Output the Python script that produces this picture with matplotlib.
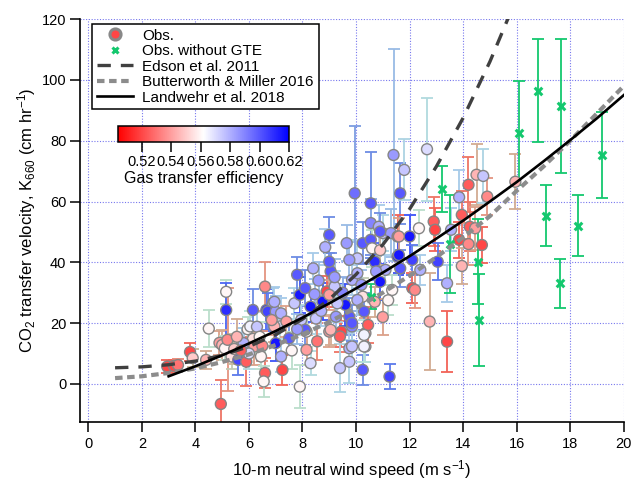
import matplotlib
matplotlib.use('Agg')
import matplotlib.pyplot as plt
from matplotlib.colors import Normalize, LinearSegmentedColormap
from matplotlib.lines import Line2D
import numpy as np

plt.rcParams['font.family'] = ['Liberation Sans', 'DejaVu Sans']
plt.rcParams['mathtext.default'] = 'regular'

# observations with gas transfer efficiency (GTE)
obs_u = [2.95, 3.2, 3.35, 3.8, 3.9, 4.4, 4.5, 4.95, 5.15, 5.15, 4.9, 5.0, 5.1, 5.2, 5.35,
         5.6, 5.9, 5.75, 5.95, 6.05, 6.3, 6.15, 6.2, 5.8, 6.6, 6.55, 6.45, 6.65, 6.6, 6.15,
         6.9, 6.7, 7.0, 7.2, 7.15, 6.95, 7.0, 7.2, 7.25, 7.5, 7.7, 7.8, 8.4, 7.9, 8.1,
         8.3, 7.95, 8.15, 8.15, 8.3, 8.75, 8.9, 9.05, 9.0, 9.2, 9.25, 9.45, 9.4, 9.0, 9.6,
         9.75, 9.85, 9.75, 9.75, 9.4, 10.25, 10.35, 10.35, 10.45, 10.25, 9.85, 10.05, 10.25, 9.75, 9.95,
         10.55, 10.55, 10.85, 11.0, 11.3, 11.65, 11.55, 12.0, 12.35, 11.55, 11.65, 12.1, 12.4, 12.1, 12.2,
         11.35, 10.9, 11.1, 12.9, 12.95, 13.05, 12.75, 13.4, 10.3, 7.9, 11.4, 11.8, 12.65, 14.5, 14.75,
         14.2, 13.85, 14.9, 13.95, 15.95, 13.55, 13.85, 14.25, 14.45, 14.7, 14.2, 13.95, 13.4, 11.6, 11.25,
         9.0, 8.85, 10.7, 10.75, 10.05, 9.2, 9.65, 10.55, 10.6, 10.9, 10.2, 10.05, 9.85, 10.3, 9.85,
         10.3, 9.0, 9.05, 8.1, 6.85, 6.95, 11.6, 5.45, 5.55, 6.4, 6.5, 6.0, 5.7, 7.4, 7.6,
         7.8, 8.5, 8.55, 8.7, 8.45, 9.3, 9.5, 8.6, 10.7, 11.0, 11.2, 10.9]
obs_k = [5.7, 5.9, 6.2, 10.5, 8.5, 7.9, 18.2, -6.6, 30.3, 24.3, 13.5, 12.8, 11.7, 14.5, 9.0,
         7.9, 7.3, 13.5, 18.0, 18.9, 18.8, 14.8, 12.3, 13.4, 3.6, 0.8, 9.0, 24.3, 32.0, 24.3,
         26.5, 23.8, 23.8, 23.2, 18.9, 18.9, 13.4, 9.0, 4.6, 15.0, 26.5, 35.9, 38.0, 29.3, 31.5,
         25.4, 21.0, 17.2, 11.2, 6.8, 27.1, 30.4, 37.0, 40.2, 32.0, 22.1, 17.2, 15.6, 17.2, 26.0,
         22.1, 18.9, 11.7, 7.3, 5.2, 4.6, 12.3, 16.7, 19.4, 28.7, 34.2, 41.3, 46.3, 40.8, 62.7,
         59.4, 52.9, 51.7, 49.6, 49.6, 62.7, 48.5, 48.5, 51.2, 41.9, 38.0, 40.8, 37.5, 31.5, 30.9,
         30.9, 33.6, 37.5, 53.4, 50.7, 40.2, 20.5, 13.9, 23.8, -0.9, 75.3, 70.4, 77.2, 68.8, 68.4,
         65.5, 61.4, 61.6, 55.6, 66.5, 50.7, 47.4, 51.7, 51.2, 45.7, 46.0, 38.8, 33.1, 42.4, 2.4,
         49.0, 45.0, 40.2, 37.0, 36.4, 35.1, 46.3, 47.4, 44.6, 50.1, 32.6, 27.6, 20.0, 16.1, 12.3,
         12.3, 29.3, 17.8, 17.8, 21.0, 27.0, 48.5, 11.5, 15.5, 15.5, 12.5, 10.0, 11.0, 20.5, 11.0,
         18.0, 21.5, 14.0, 24.0, 29.5, 26.5, 30.0, 34.0, 27.0, 22.0, 27.5, 44.0]
obs_err = [2, 2, 2, 3, 3, 3, 6, 8, 4, 9, 4, 5, 4, 17, 4,
           5, 8, 5, 4, 5, 5, 5, 6, 5, 5, 5, 4, 7, 8, 7,
           5, 6, 5, 5, 4, 5, 6, 5, 5, 5, 5, 6, 5, 6, 6,
           5, 5, 5, 5, 4, 6, 5, 6, 6, 5, 5, 5, 5, 5, 7,
           6, 5, 5, 7, 8, 5, 5, 5, 6, 6, 5, 6, 7, 6, 22,
           17, 8, 7, 6, 8, 10, 7, 7, 6, 6, 6, 5, 5, 5, 6,
           5, 6, 5, 8, 7, 6, 16, 10, 6, 7, 35, 10, 17, 10, 9,
           9, 9, 6, 8, 9, 7, 6, 8, 7, 6, 7, 6, 6, 6, 4,
           6, 6, 6, 5, 5, 6, 6, 6, 6, 6, 5, 5, 6, 5, 5,
           5, 5, 5, 5, 5, 5, 6, 5, 6, 5, 5, 5, 4, 5, 6,
           5, 5, 6, 5, 5, 6, 5, 6, 5, 6, 5, 5]
obs_gte = [0.52, 0.52, 0.53, 0.52, 0.55, 0.545, 0.56, 0.525, 0.56, 0.61, 0.54, 0.545, 0.56, 0.535, 0.555,
           0.605, 0.525, 0.58, 0.56, 0.565, 0.575, 0.555, 0.54, 0.58, 0.525, 0.56, 0.56, 0.61, 0.535, 0.60,
           0.58, 0.605, 0.585, 0.58, 0.57, 0.545, 0.615, 0.58, 0.52, 0.60, 0.575, 0.60, 0.58, 0.615, 0.60,
           0.615, 0.575, 0.56, 0.54, 0.57, 0.615, 0.52, 0.60, 0.60, 0.575, 0.585, 0.52, 0.525, 0.54, 0.615,
           0.60, 0.59, 0.58, 0.575, 0.575, 0.60, 0.575, 0.54, 0.525, 0.555, 0.58, 0.575, 0.60, 0.585, 0.595,
           0.60, 0.59, 0.58, 0.575, 0.585, 0.60, 0.52, 0.615, 0.56, 0.615, 0.60, 0.605, 0.58, 0.52, 0.535,
           0.56, 0.615, 0.58, 0.525, 0.52, 0.605, 0.545, 0.52, 0.60, 0.56, 0.585, 0.575, 0.57, 0.545, 0.575,
           0.525, 0.58, 0.535, 0.525, 0.545, 0.58, 0.52, 0.525, 0.54, 0.52, 0.535, 0.545, 0.58, 0.615, 0.605,
           0.60, 0.58, 0.61, 0.585, 0.58, 0.585, 0.585, 0.60, 0.56, 0.60, 0.585, 0.58, 0.60, 0.565, 0.575,
           0.565, 0.54, 0.545, 0.60, 0.54, 0.58, 0.54, 0.55, 0.545, 0.56, 0.535, 0.57, 0.525, 0.54, 0.56,
           0.585, 0.575, 0.53, 0.58, 0.585, 0.575, 0.59, 0.585, 0.545, 0.54, 0.56, 0.55]

# observations without GTE
nogte_u = [10.55, 13.5, 13.2, 14.55, 14.6, 16.07, 16.8, 17.1, 17.65, 18.3, 17.6, 19.2]
nogte_k = [28.7, 46.0, 64.1, 40.2, 21.0, 82.5, 96.5, 55.3, 91.4, 52.0, 33.1, 75.3]
nogte_err = [4, 16, 7.5, 14, 15, 17, 17, 10, 22, 10, 8, 14]

# parameterisations
edson_u = list(range(1, 17))
edson_k = [5.3, 5.6, 6.3, 7.5, 9.4, 12.3, 16.2, 21.3, 27.8, 36.0, 45.8, 57.5, 71.5, 87.5, 106.0, 127.0]
bm_u = list(range(1, 21))
bm_k = [1.9, 2.5, 3.6, 5.1, 7.2, 9.7, 12.8, 16.3, 20.4, 25.0, 30.0, 35.6, 41.7, 48.2, 55.2,
        63.5, 71.5, 80.0, 89.0, 98.0]
lw_u = list(range(3, 21))
lw_k = [2.5, 5.8, 9.4, 13.3, 17.4, 21.8, 26.5, 31.4, 36.6, 42.0, 47.8, 53.7, 60.0, 66.4,
        73.2, 80.2, 87.4, 95.0]

gte_min, gte_max = 0.504, 0.62
cbar_ticks = [0.52, 0.54, 0.56, 0.58, 0.60, 0.62]

fig = plt.figure(figsize=(6.32, 4.9), dpi=100)
ax = fig.add_axes([0.127, 0.139, 0.860, 0.822])

norm = Normalize(gte_min, gte_max)
cmap = plt.get_cmap('bwr_r')
ebar_cmap = LinearSegmentedColormap.from_list(
    'ebar', [(0.0, '#ff2a2a'), (0.25, '#e8907c'), (0.4, '#c8b89c'), (0.5, '#b8e6d6'),
             (0.65, '#a8cce8'), (0.8, '#7898e0'), (1.0, '#2a40ff')])

for u, k, e, g in zip(obs_u, obs_k, obs_err, obs_gte):
    ax.errorbar(u, k, yerr=e, fmt='none', ecolor=ebar_cmap(norm(g)), elinewidth=1.3,
                capsize=4, capthick=1.3, zorder=2)
ax.errorbar(nogte_u, nogte_k, yerr=nogte_err, fmt='none', ecolor='#14c86e', elinewidth=1.3,
            capsize=4, capthick=1.3, zorder=2)

ax.scatter(obs_u, obs_k, c=obs_gte, cmap=cmap, norm=norm, s=62, edgecolors='#858585',
           linewidths=1.0, zorder=3)
ax.scatter(nogte_u, nogte_k, marker='x', color='#14c86e', s=30, linewidths=2.2, zorder=4)

ax.plot(edson_u, edson_k, color='#404040', lw=2.4, dashes=(4, 3), zorder=5)
ax.plot(bm_u, bm_k, color='#8c8c8c', lw=3.0, dashes=(1.8, 1.1), zorder=5)
ax.plot(lw_u, lw_k, color='black', lw=1.9, zorder=6)

ax.set_xlim(-0.3, 20)
ax.set_ylim(-12.5, 120)
ax.set_xticks(np.arange(0, 21, 2))
ax.set_yticks(np.arange(0, 121, 20))
ax.grid(True, color='#7777ee', linestyle=(0, (1, 1.5)), linewidth=0.8)
ax.set_axisbelow(True)
for side in ['top', 'right']:
    ax.spines[side].set_visible(False)
for side in ['left', 'bottom']:
    ax.spines[side].set_linewidth(1.2)
ax.tick_params(axis='both', direction='out', length=7, width=1.1, labelsize=10.5)
ax.tick_params(axis='x', pad=4)
ax.tick_params(axis='y', pad=3)
ax.set_xlabel('10-m neutral wind speed (m s$^{-1}$)', fontsize=12, labelpad=5)
ax.set_ylabel('CO$_2$ transfer velocity, K$_{660}$ (cm hr$^{-1}$)', fontsize=12, labelpad=3)

handles = [
    Line2D([], [], ls='none', marker='o', ms=8, mfc='#ff4646', mec='#888888', mew=2.2),
    Line2D([], [], ls='none', marker='x', ms=5, color='#14c86e', mew=2.2),
    Line2D([], [], color='#404040', lw=2.4, dashes=(4, 3)),
    Line2D([], [], color='#8c8c8c', lw=3.0, dashes=(1.8, 1.1)),
    Line2D([], [], color='black', lw=1.9),
]
labels = ['Obs.', 'Obs. without GTE', 'Edson et al. 2011', 'Butterworth & Miller 2016',
          'Landwehr et al. 2018']
leg = ax.legend(handles, labels, loc='upper left', bbox_to_anchor=(0.1456, 0.951),
                bbox_transform=fig.transFigure, borderaxespad=0, fontsize=11,
                labelspacing=0.1, handlelength=2.4, handletextpad=0.6, borderpad=0.3,
                fancybox=False, framealpha=1, edgecolor='black')
leg.get_frame().set_linewidth(1.1)
leg.set_zorder(10)

cax = fig.add_axes([0.1867, 0.7102, 0.2706, 0.0327])
sm = plt.cm.ScalarMappable(norm=norm, cmap=cmap)
cb = fig.colorbar(sm, cax=cax, orientation='horizontal', ticks=cbar_ticks)
cb.ax.set_xticklabels(['%.2f' % t for t in cbar_ticks])
cb.ax.tick_params(direction='out', length=7, width=1.1, labelsize=10.5, pad=2)
cb.outline.set_linewidth(1.1)
cb.set_label('Gas transfer efficiency', fontsize=11.5, labelpad=2)

fig.savefig('out.png', dpi=100)
